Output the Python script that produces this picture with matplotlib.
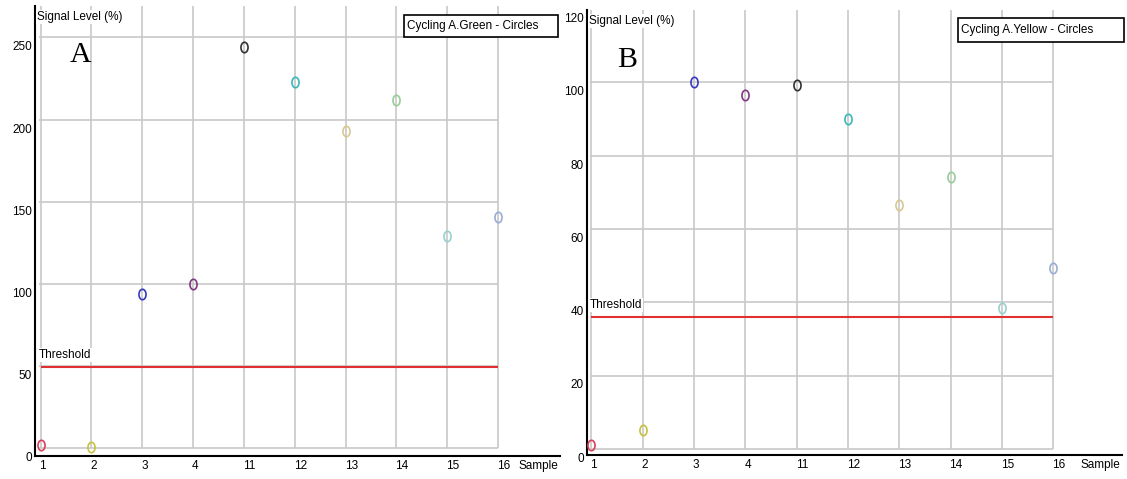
import numpy as np
import matplotlib
matplotlib.use("Agg")
from matplotlib import pyplot as plt
from matplotlib import font_manager
from matplotlib.path import Path
from matplotlib.patches import Rectangle
from matplotlib.transforms import offset_copy

samples = ['1', '2', '3', '4', '11', '12', '13', '14', '15', '16']
colors = ['#d8405a', '#c8c040', '#3838c0', '#803880', '#303030',
          '#38b8b8', '#d8c890', '#98cc98', '#98d0d0', '#98acd4']

green_vals = [2, 0.5, 94, 100, 244, 223, 193, 212, 129, 140.5]
green_threshold = 49.5
green_ticks = [0, 50, 100, 150, 200, 250]

yellow_vals = [1, 5, 100, 96.5, 99.3, 90, 66.5, 74.2, 38.3, 49.2]
yellow_threshold = 36
yellow_ticks = [0, 20, 40, 60, 80, 100, 120]

W, H = 1127, 479
fig = plt.figure(figsize=(W / 100, H / 100), dpi=100)
fig.patch.set_facecolor('white')

names = {f.name for f in font_manager.fontManager.ttflist}
if 'Liberation Sans Narrow' in names:
    sans, fs = 'Liberation Sans Narrow', 10.3
else:
    sans, fs = 'Liberation Sans', 8.5

# tall ellipse used as the circle marker
circ = Path.unit_circle()
ellipse = Path(circ.vertices * [0.68, 1.0], circ.codes)


def fx(p):
    return p / W


def fy(p):
    return 1 - p / H


def panel(box, x0, dx, y0, dy, vals, thr, ticks, top_val):
    # box = (left, right, top, bottom) in pixels; x0/dx, y0/dy map data to pixels
    left, right, top, bottom = box
    ax = fig.add_axes([fx(left), fy(bottom), fx(right - left), (bottom - top) / H])
    ax.set_xlim((left - x0) / dx, (right - x0) / dx)
    ax.set_ylim((y0 - bottom) / dy, (y0 - top) / dy)
    for s in ['top', 'right']:
        ax.spines[s].set_visible(False)
    for s in ['left', 'bottom']:
        ax.spines[s].set_linewidth(1.5)
        ax.spines[s].set_color('black')
    ax.set_yticks([])

    idx = np.arange(len(samples))
    ax.vlines(idx, 0, top_val, color='#c8c8c8', lw=1.2, zorder=1)
    ax.hlines(ticks, -0.02, idx[-1], color='#c8c8c8', lw=1.2, zorder=1)
    ax.hlines(thr, 0, idx[-1], color='#e03030', lw=1.5, zorder=2)

    for i, v in enumerate(vals):
        ax.plot(i, v, marker=ellipse, ms=7.5, mfc='none', mec=colors[i],
                mew=1.2, ls='none', zorder=3, clip_on=False)

    ax.set_xticks(idx)
    ax.set_xticklabels(samples, fontfamily=sans, fontsize=fs, ha='left')
    ax.tick_params(axis='x', length=0, pad=3)
    for lab in ax.get_xticklabels():
        lab.set_transform(offset_copy(lab.get_transform(), fig, x=-1, y=0, units='dots'))

    ytr = offset_copy(ax.get_yaxis_transform(), fig, x=-3, y=-10, units='dots')
    for t in ticks:
        ax.text(0, t, str(t), transform=ytr, ha='right', va='center',
                fontfamily=sans, fontsize=fs)

    ax.text(-0.03, thr, 'Threshold', transform=offset_copy(
        ax.transData, fig, x=0, y=12, units='dots'),
        ha='left', va='center', fontfamily=sans, fontsize=fs,
        bbox=dict(fc='white', ec='none', pad=0.5), zorder=4)
    ax.text(0, 1, 'Signal Level (%)', transform=offset_copy(
        ax.transAxes, fig, x=2, y=-11, units='dots'),
        ha='left', va='center', fontfamily=sans, fontsize=fs,
        bbox=dict(fc='white', ec='none', pad=1), zorder=4)
    fig.text(fx(right - 2), fy(bottom + 10), 'Sample', ha='right', va='center',
             fontfamily=sans, fontsize=fs)
    return ax


def legend_box(l, r, t, b, text):
    fig.patches.append(Rectangle((fx(l), fy(b)), fx(r - l), (b - t) / H,
                                 transform=fig.transFigure, fill=True, fc='white',
                                 ec='black', lw=1.2, zorder=5))
    fig.text(fx(l + 3), fy((t + b) / 2), text, ha='left', va='center',
             fontfamily=sans, fontsize=fs, zorder=6)


axA = panel((35, 560, 6, 455.7), 40.5, 50.85, 448.3, 1.644,
            green_vals, green_threshold, green_ticks, 269)
axB = panel((587, 1122, 10, 455), 591.4, 51.3, 448.8, 3.665,
            yellow_vals, yellow_threshold, yellow_ticks, 120)

legend_box(404, 558, 15, 37, 'Cycling A.Green - Circles')
legend_box(958, 1124, 18, 42, 'Cycling A.Yellow - Circles')

fig.text(fx(81), fy(55), 'A', ha='center', va='center',
         fontfamily='Liberation Serif', fontsize=21.5)
fig.text(fx(627), fy(60), 'B', ha='center', va='center',
         fontfamily='Liberation Serif', fontsize=21.5)

fig.savefig('out.png', dpi=100)
